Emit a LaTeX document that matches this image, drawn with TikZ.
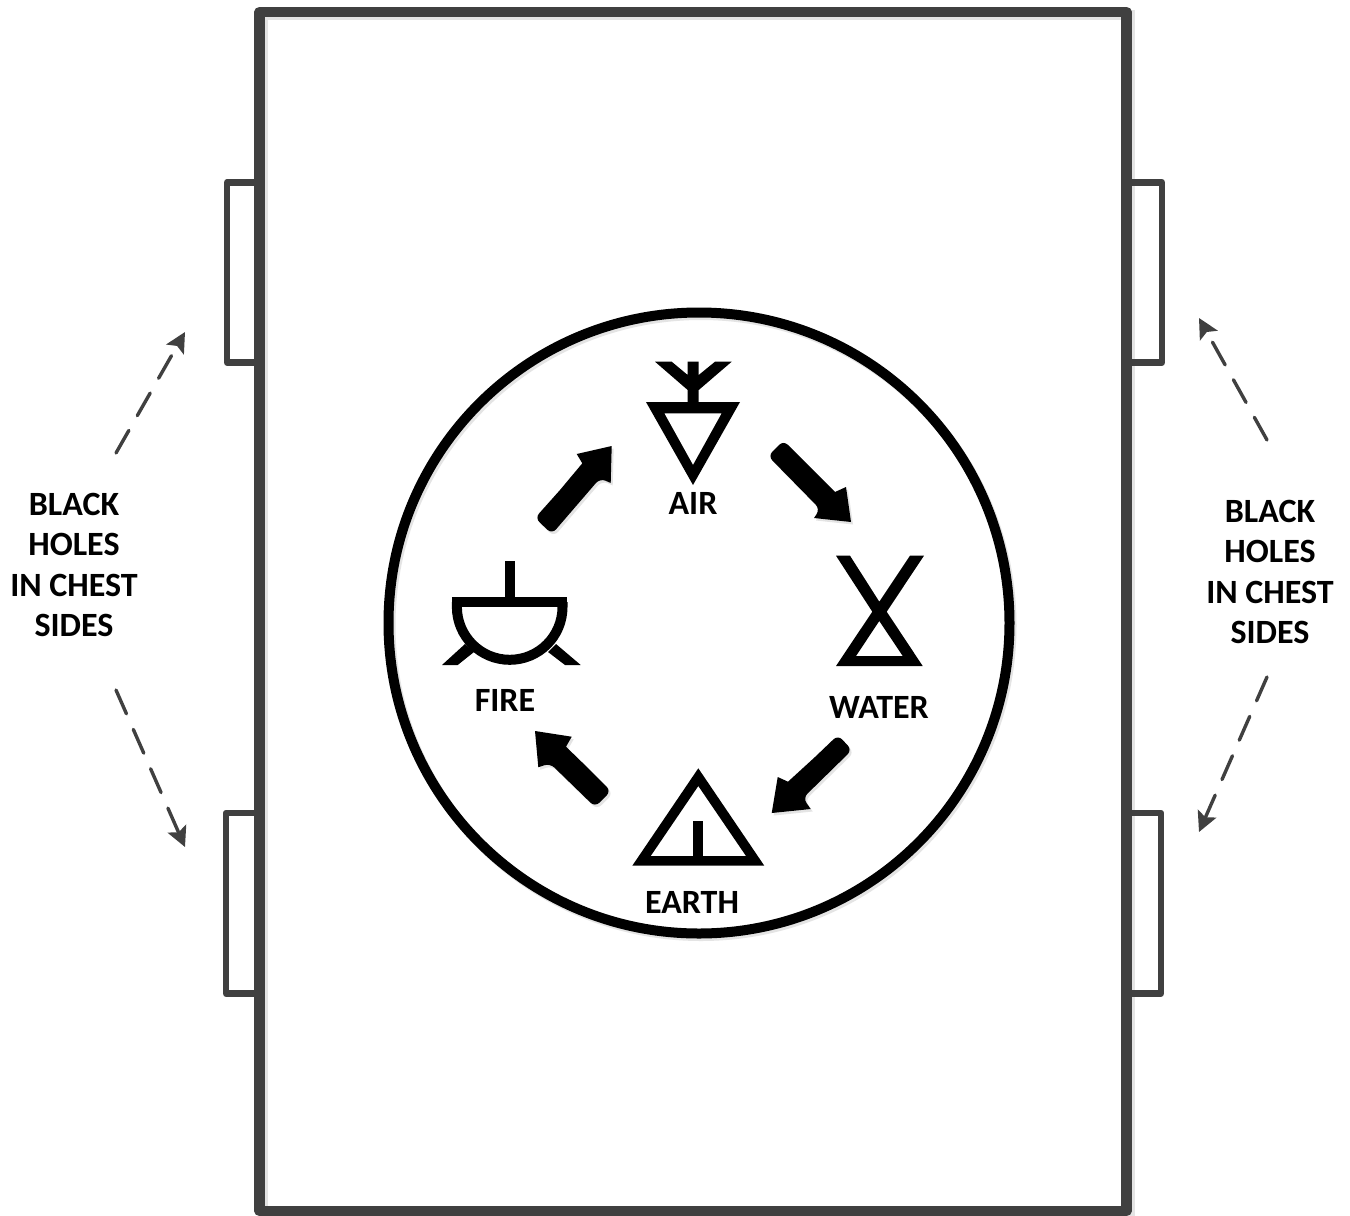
\documentclass[tikz,border=0pt]{standalone}
\usepackage{fontspec}
\setmainfont{Carlito}
\usetikzlibrary{arrows.meta}
\definecolor{frame}{HTML}{404040}
\definecolor{soft}{HTML}{E4E4E4}
\tikzset{
  x=1pt,y=-1pt,
  framebox/.style={draw=frame,line width=10.5pt,line join=round},
  tabbox/.style={draw=frame,line width=6.5pt,line join=round},
  softline/.style={draw=soft,line width=10pt},
  dashedarrow/.style={draw=frame,line width=3.4pt,line cap=round,dash pattern=on 26pt off 17pt,-{Stealth[length=20pt,width=20pt,inset=4pt]}},
  lbl/.style={font=\bfseries\fontsize{34}{40.3}\selectfont,text=black,inner sep=0pt,align=center},
  glyph/.style={fill=black,even odd rule},
  fat/.style={fill=black,rounded corners=6pt},
  fatshadow/.style={fill=soft,rounded corners=6pt,xshift=2pt,yshift=-2.5pt}
}
\newcommand{\fatarrow}[9]{%
  \fill[fatshadow] #1 -- #2 -- #3 -- #4 [sharp corners] -- #5 -- #6 -- #7 -- #8 -- #9 -- cycle;
  \fill[fat] #1 -- #2 -- #3 -- #4 [sharp corners] -- #5 -- #6 -- #7 -- #8 -- #9 -- cycle;}
\begin{document}
\begin{tikzpicture}
\useasboundingbox (0,0) rectangle (1350,1216);
\fill[white] (0,0) rectangle (1350,1216);
% chest shadow
\draw[softline] (262.5,15) rectangle (1129.5,1214);
% tabs
\draw[tabbox] (259,182.5) -- (227,182.5) -- (227,362.5) -- (259,362.5);
\draw[tabbox] (259,813) -- (226,813) -- (226,993.5) -- (259,993.5);
\draw[tabbox] (1126,182.5) -- (1162,182.5) -- (1162,362.5) -- (1126,362.5);
\draw[tabbox] (1126,813) -- (1161,813) -- (1161,993.5) -- (1126,993.5);
% chest
\draw[framebox] (259.5,12) rectangle (1126.5,1211);
% circle
\draw[draw=soft,line width=10pt] (701,625.5) circle[radius=310.5pt];
\draw[draw=black,line width=10pt,fill=none] (699,623) circle[radius=310.5pt];
% air symbol
\fill[glyph] (646,402) -- (740,402) -- (693,485) -- cycle (664.3,413.3) -- (721.7,413.3) -- (693,465) -- cycle;
\fill[black] (687.7,402.5) -- (687.7,390) -- (655,361.7) -- (671.7,361.7) -- (687.7,375) -- (687.7,361.7) -- (698.7,361.7) -- (698.7,375) -- (715,361.7) -- (731.7,361.7) -- (698.7,390) -- (698.7,402.5) -- cycle;
% water symbol
\fill[glyph] (836,555.7) -- (850,555.7) -- (879.3,601.7) -- (910,555.7) -- (924,555.7) -- (886.7,611.7) -- (922.7,666) -- (836,666) -- (872.3,611.7) -- cycle (879.3,621) -- (856,656) -- (902.7,656) -- cycle;
% earth symbol
\fill[glyph] (698.3,768.3) -- (632.3,865.7) -- (764.3,865.7) -- cycle (698.3,786) -- (650.7,856) -- (746,856) -- cycle;
\fill[black] (693.3,821) rectangle (703.3,856.5);
% fire symbol
\draw[black,line width=10.5pt] (451.9,602) -- (567.3,602);
\draw[black,line width=10pt] (562.5,602) -- (562.5,607) arc[start angle=0,end angle=-180,radius=52.8pt] -- (457,602);
\fill[black] (504.7,561.3) rectangle (515,598);
\fill[black] (442,665) -- (457.7,665) -- (474,652) -- (465,644) -- cycle;
\fill[black] (580.7,665) -- (565,665) -- (548,652) -- (556,644) -- cycle;
% flow arrows
\fatarrow{(812,469)}{(783.5,440.5)}{(768,456)}{(820,509)}{(814,518)}{(851,522)}{(846,487)}{(835,492)}{(812,469)}
\fatarrow{(815,757)}{(838,735)}{(852,750)}{(803,798)}{(810.7,809)}{(771.7,813)}{(777.7,777)}{(788,781.7)}{(815,757)}
\fatarrow{(590,770)}{(611,791)}{(595,807)}{(550,763.3)}{(538.3,767.3)}{(535,731)}{(571.7,736.7)}{(566,746.7)}{(590,770)}
\fatarrow{(560,490)}{(535,518)}{(552,534)}{(600,478.3)}{(610.7,483)}{(611.7,446)}{(576.7,454)}{(582.3,463.3)}{(560,490)}
% labels
\node[lbl] (air) at (693,503.5) {AIR};
\node[lbl] (fire) at (505,700.5) {FIRE};
\node[lbl] (water) at (879,707.5) {WATER};
\node[lbl] (earth) at (692,902.5) {EARTH};
\node[lbl] (left) at (74,565) {BLACK\\HOLES\\IN CHEST\\SIDES};
\node[lbl] (right) at (1270,572) {BLACK\\HOLES\\IN CHEST\\SIDES};
% dashed pointers
\coordinate (lus) at (116,453);
\coordinate (lut) at (185,332);
\coordinate (lls) at (116,690);
\coordinate (llt) at (185,847);
\coordinate (rus) at (1267,440);
\coordinate (rut) at (1199,318);
\coordinate (rls) at (1267,677);
\coordinate (rlt) at (1199,832);
\draw[dashedarrow] (lus) -- (lut);
\draw[dashedarrow] (lls) -- (llt);
\draw[dashedarrow] (rus) -- (rut);
\draw[dashedarrow] (rls) -- (rlt);
\end{tikzpicture}
\end{document}
